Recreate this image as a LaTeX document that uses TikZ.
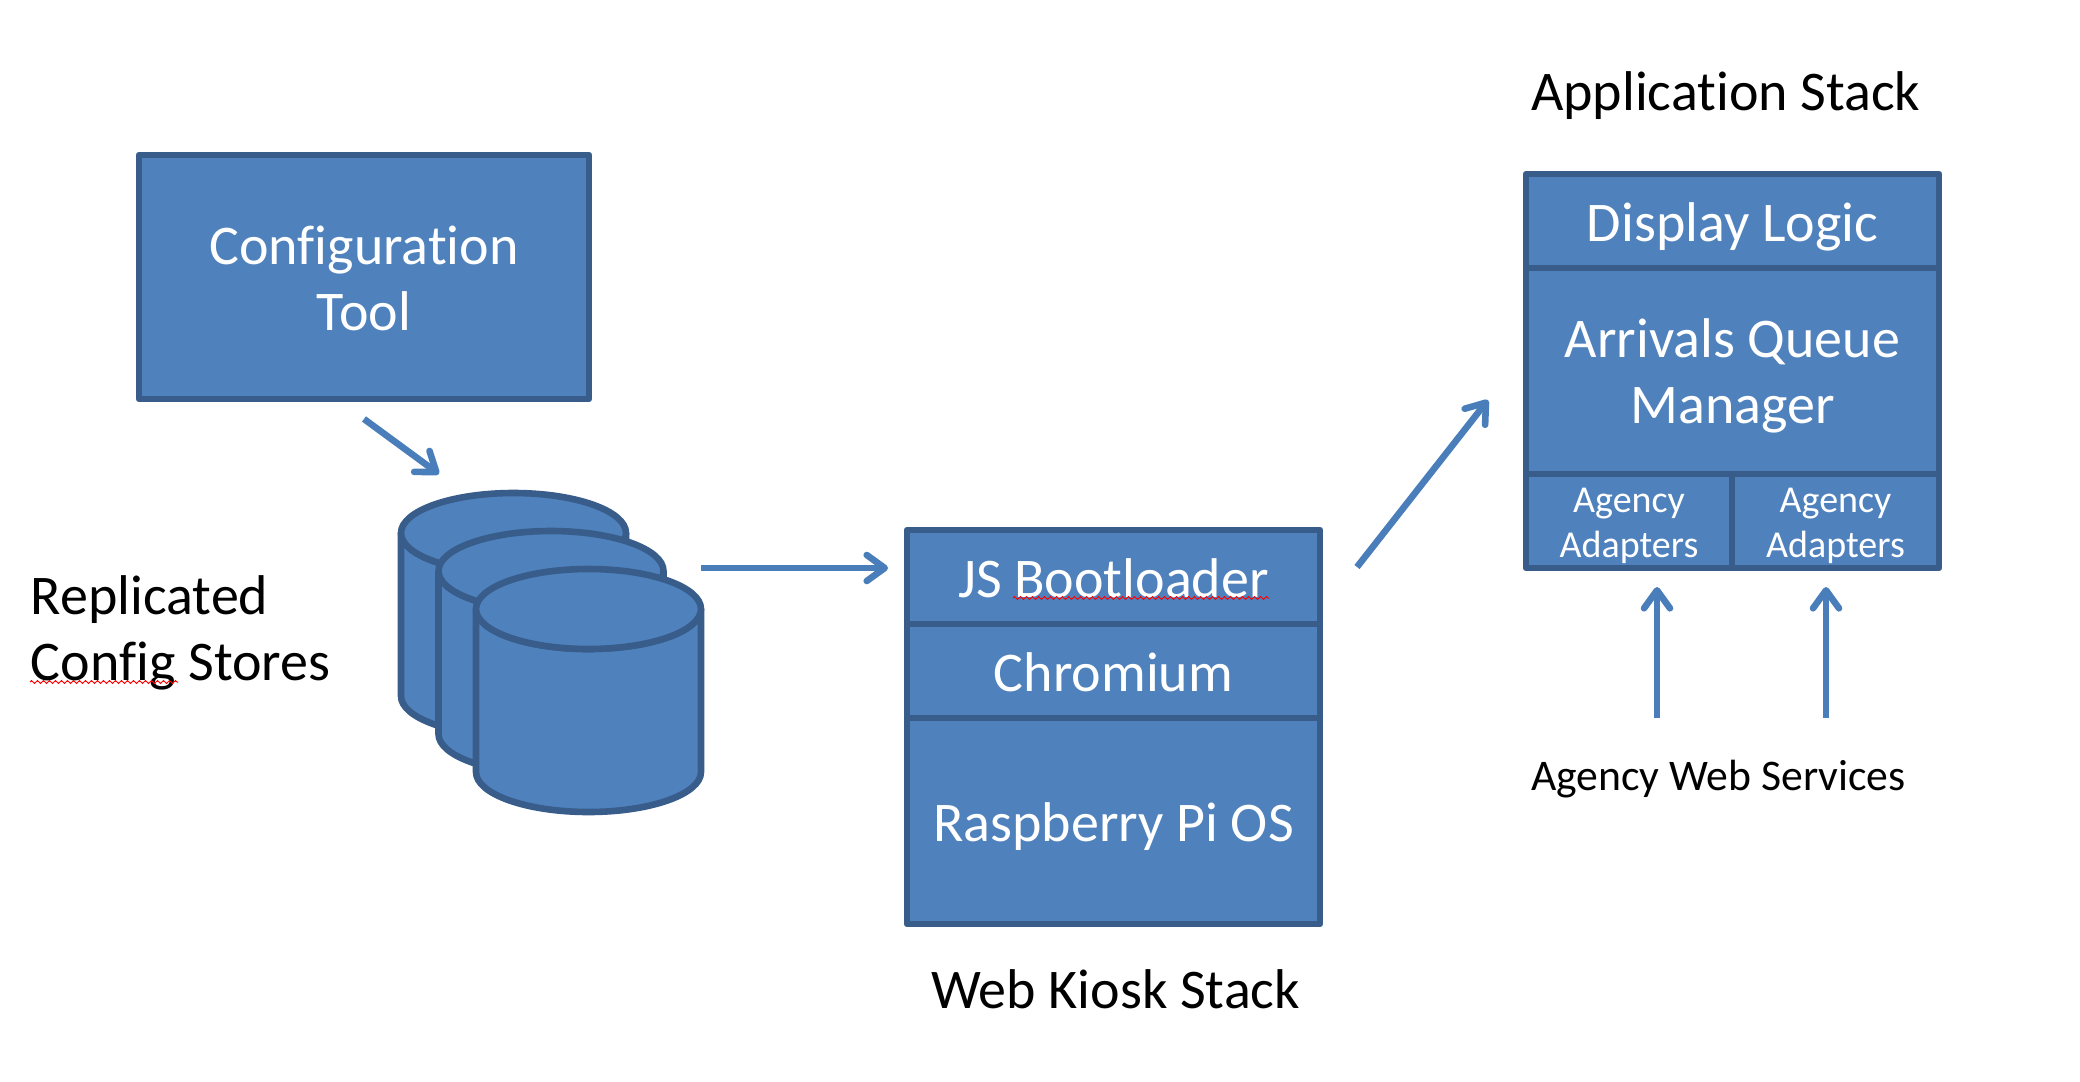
\documentclass[tikz,border=0pt]{standalone}
\usepackage{fontspec}
\setmainfont{Carlito}[Ligatures=NoCommon]
\usetikzlibrary{arrows.meta,decorations.pathmorphing}
\definecolor{fillblue}{HTML}{4F81BD}
\definecolor{edgeblue}{HTML}{385D8A}
\definecolor{arrowblue}{HTML}{4A7EBB}
\newcommand{\bigfont}{\fontsize{28}{33}\selectfont}
\newcommand{\smallfont}{\fontsize{19}{22.5}\selectfont}
\newcommand{\midfont}{\fontsize{21.85}{26}\selectfont}
\newcommand{\drumshape}[1]{%
  \begin{scope}[shift={#1}]
    \draw[drum] (0,40) -- (0,203) arc[start angle=180,end angle=0,x radius=112.5,y radius=40] -- (225,40) arc[start angle=0,end angle=180,x radius=112.5,y radius=40] -- cycle;
    \draw[drum] (112.5,40) ellipse[x radius=112.5,y radius=40];
  \end{scope}}
\tikzset{
  x=0.5pt,y=-0.5pt,
  layer/.style={draw=edgeblue,fill=fillblue,line width=3.3pt,line join=round,text=white,inner sep=0pt,outer sep=0pt,anchor=north west,align=center,text depth=0pt},
  drum/.style={draw=edgeblue,fill=fillblue,line width=3.3pt},
  link/.style={draw=arrowblue,line width=3.3pt,-{Straight Barb[length=9pt,width=13pt,round]}},
  caption/.style={text=black,inner sep=0pt,outer sep=0pt},
  squiggle/.style={draw=red,line width=0.5pt,decorate,decoration={zigzag,segment length=3pt,amplitude=0.7pt}}
}
\begin{document}
\begin{tikzpicture}
\useasboundingbox (0,0) rectangle (2080,1081);
\fill[white] (0,0) rectangle (2080,1081);
% config tool
\node[layer,font=\bigfont,minimum width=225pt,minimum height=122pt,text height=53.2pt] (config) at (139,155) {Configuration\\Tool};
% cylinders
\drumshape{(401,493)}
\drumshape{(438.5,531)}
\drumshape{(476,569)}
% web stack
\node[layer,font=\bigfont,minimum width=206.5pt,minimum height=47pt,text height=20.2pt] (boot) at (907,530) {JS Bootloader};
\node[layer,font=\bigfont,minimum width=206.5pt,minimum height=47pt,text height=20.2pt] (chrom) at (907,624) {Chromium};
\node[layer,font=\bigfont,minimum width=206.5pt,minimum height=103pt,text height=20.2pt] (pios) at (907,718) {Raspberry Pi OS};
% app stack
\node[layer,font=\bigfont,minimum width=206.5pt,minimum height=47pt,text height=20pt] (disp) at (1526,174) {Display Logic};
\node[layer,font=\bigfont,minimum width=206.5pt,minimum height=103pt,text height=52pt] (queue) at (1526,268) {Arrivals Queue\\Manager};
\node[layer,font=\smallfont,minimum width=103pt,minimum height=47pt,text height=36pt] (ad1) at (1526,474) {Agency\\Adapters};
\node[layer,font=\smallfont,minimum width=103.5pt,minimum height=47pt,text height=36pt] (ad2) at (1732,474) {Agency\\Adapters};
% captions
\node[caption,font=\bigfont,anchor=base west] (appcap) at (1531,111) {Application Stack};
\node[caption,font=\bigfont,anchor=base west] (webcap) at (931,1008.3) {Web Kiosk Stack};
\node[caption,font=\bigfont,anchor=base west,align=left] (repcap) at (31,680.5) {Replicated\\Config Stores};
\node[caption,font=\midfont,anchor=base west] (svc) at (1531,790) {Agency Web Services};
% squiggles
\coordinate (sqa) at (30,682); \coordinate (sqb) at (178,682);
\coordinate (sqc) at (1013,598); \coordinate (sqd) at (1269,598);
\draw[squiggle] (sqa) -- (sqb);
\draw[squiggle] (sqc) -- (sqd);
% arrows
\coordinate (a1s) at (364,419); \coordinate (a1e) at (439,474);
\coordinate (a2s) at (701,568); \coordinate (a2e) at (888,568);
\coordinate (a3s) at (1357,567); \coordinate (a3e) at (1488,400);
\coordinate (a4s) at (1657,718); \coordinate (a4e) at (1657,587);
\coordinate (a5s) at (1826,718); \coordinate (a5e) at (1826,587);
\draw[link] (a1s) -- (a1e);
\draw[link] (a2s) -- (a2e);
\draw[link] (a3s) -- (a3e);
\draw[link] (a4s) -- (a4e);
\draw[link] (a5s) -- (a5e);
\end{tikzpicture}
\end{document}
